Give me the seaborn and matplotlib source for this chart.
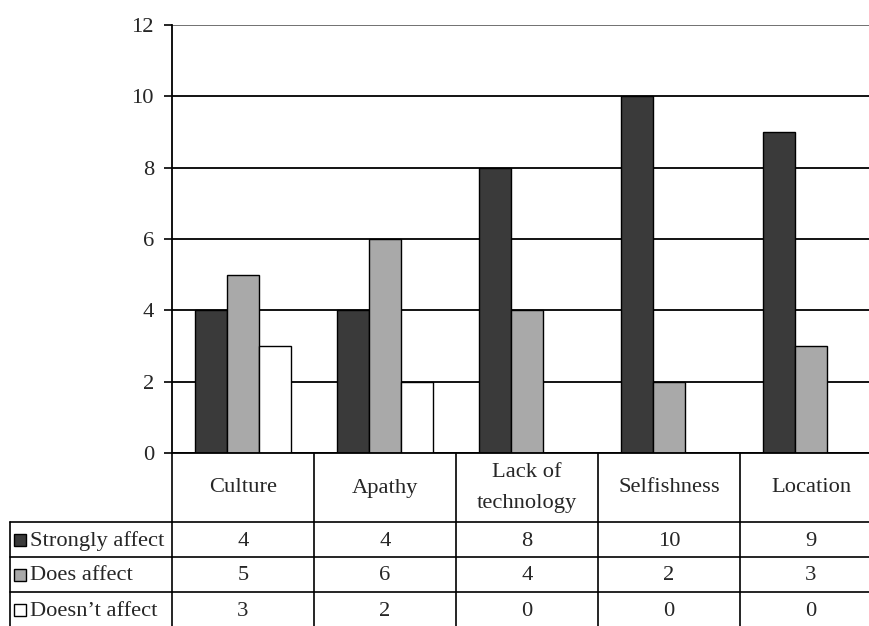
import matplotlib
matplotlib.use("Agg")
import matplotlib.pyplot as plt
import seaborn as sns
import pandas as pd
from matplotlib.transforms import blended_transform_factory
from matplotlib.lines import Line2D
from matplotlib.patches import Rectangle

categories = ['Culture', 'Apathy', 'Lack of\ntechnology', 'Selfishness', 'Location']
series = ['Strongly affect', 'Does affect', 'Doesn\u2019t affect']
strongly_affect = [4, 4, 8, 10, 9]
does_affect = [5, 6, 4, 2, 3]
doesnt_affect = [3, 2, 0, 0, 0]
yticks = [0, 2, 4, 6, 8, 10, 12]
colors = ['#3a3a3a', '#a9a9a9', '#ffffff']

values = [strongly_affect, does_affect, doesnt_affect]
rows = []
for s, vals in zip(series, values):
    for c, v in zip(categories, vals):
        rows.append({'category': c, 'series': s, 'value': v})
df = pd.DataFrame(rows)

sns.set_theme(style='white')
plt.rcParams['font.family'] = ['Liberation Serif', 'DejaVu Serif']
FS = 16.2

W, H = 869, 626
fig = plt.figure(figsize=(W / 100, H / 100), dpi=100)
fig.patch.set_facecolor('white')
ax = fig.add_axes([172 / W, (H - 453) / H, 710 / W, 428 / H])

sns.barplot(data=df, x='category', y='value', hue='series', order=categories,
            hue_order=series, palette=colors, width=0.675, saturation=1,
            edgecolor='black', linewidth=1.0, ax=ax, legend=False)

ax.set_xlim(-0.5, 4.5)
ax.set_ylim(0, 12)
ax.set_yticks(yticks)
ax.set_yticklabels([str(t) for t in yticks], fontsize=FS)
ax.set_xticks([])
ax.set_xlabel('')
ax.set_ylabel('')
ax.yaxis.grid(True, color='black', linewidth=1.3)
ax.set_axisbelow(True)
gl = ax.yaxis.get_gridlines()
gl[-1].set_color('#666666')
ax.tick_params(axis='y', which='major', direction='out', length=6, width=1.2,
               color='black', pad=7, left=True)
for side in ['top', 'right']:
    ax.spines[side].set_visible(False)
for side in ['left', 'bottom']:
    ax.spines[side].set_color('black')
    ax.spines[side].set_linewidth(1.3)
ax.set_facecolor('white')

# data table below the chart
fy = lambda py: (H - py) / H
fx = lambda px: px / W
btr = blended_transform_factory(ax.transData, fig.transFigure)
lw = 1.2
for i in range(len(categories) + 1):
    fig.add_artist(Line2D([i - 0.5, i - 0.5], [fy(453), fy(630)], transform=btr,
                          color='black', lw=lw, clip_on=False))
fig.add_artist(Line2D([fx(10), fx(10)], [fy(522), fy(630)], transform=fig.transFigure,
                      color='black', lw=lw))
row_lines = [522, 557, 592]
for py in row_lines:
    fig.add_artist(Line2D([fx(10), fx(172)], [fy(py), fy(py)], transform=fig.transFigure,
                          color='black', lw=lw))
    fig.add_artist(Line2D([-0.5, 4.5], [fy(py), fy(py)], transform=btr,
                          color='black', lw=lw, clip_on=False))

for i, c in enumerate(categories):
    fig.text(i, fy(488), c, transform=btr, ha='center', va='center', fontsize=FS,
             linespacing=1.9)

row_centers = [541, 576, 611]
for r, (s, vals, col) in enumerate(zip(series, values, colors)):
    yc = row_centers[r]
    fig.add_artist(Rectangle((fx(14), fy(yc + 5)), 12 / W, 12 / H, transform=fig.transFigure,
                             facecolor=col, edgecolor='black', lw=1.0))
    fig.text(fx(30), fy(yc), s, transform=fig.transFigure, ha='left', va='center',
             fontsize=FS)
    for i, v in enumerate(vals):
        fig.text(i, fy(yc), str(v), transform=btr, ha='center', va='center', fontsize=FS)

fig.savefig('out.png', dpi=100, facecolor='white')
